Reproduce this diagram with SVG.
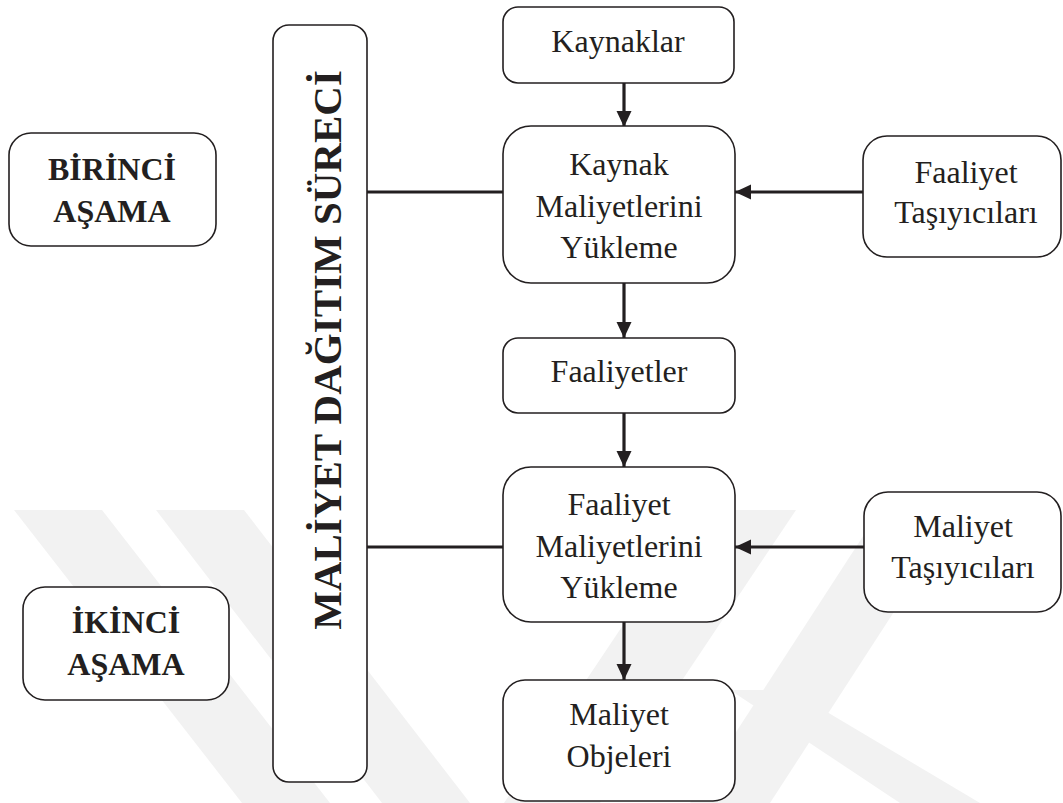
<svg xmlns="http://www.w3.org/2000/svg" width="1063" height="803" viewBox="0 0 1063 803">
  <defs>
    <style>
      .box { fill: #ffffff; stroke: #231f20; stroke-width: 1.6; }
      .txt { font-family: "Liberation Serif", "Times New Roman", serif; font-size: 32px; fill: #231f20; text-anchor: middle; }
      .bold { font-weight: bold; }
      .link { stroke: #231f20; stroke-width: 3.2; fill: none; }
      .wm { fill: #f2f2f2; }
    </style>
    <marker id="arrow" markerUnits="userSpaceOnUse" markerWidth="16" markerHeight="16" refX="16" refY="7.5" orient="auto">
      <path d="M0,0 L16,7.5 L0,15 z" fill="#231f20"/>
    </marker>
  </defs>

  <rect width="1063" height="803" fill="#ffffff"/>

  <!-- faint background watermark bands -->
  <g id="watermark">
    <polygon class="wm" points="14,510 102,510 330,803 242,803"/>
    <polygon class="wm" points="156,510 244,510 470,803 382,803"/>
    <polygon class="wm" points="700,510 796,510 600,803 504,803"/>
    <polygon class="wm" points="880,510 960,510 770,803 690,803"/>
    <polygon class="wm" points="730,690 790,690 980,803 900,803"/>
  </g>

  <!-- connectors -->
  <g id="connectors">
    <line class="link" x1="624" y1="83" x2="624" y2="127" marker-end="url(#arrow)"/>
    <line class="link" x1="624" y1="283" x2="624" y2="338" marker-end="url(#arrow)"/>
    <line class="link" x1="624" y1="413" x2="624" y2="467" marker-end="url(#arrow)"/>
    <line class="link" x1="624" y1="622" x2="624" y2="680" marker-end="url(#arrow)"/>
    <line class="link" x1="863" y1="192" x2="735" y2="192" marker-end="url(#arrow)"/>
    <line class="link" x1="864" y1="547" x2="735" y2="547" marker-end="url(#arrow)"/>
    <line class="link" x1="367" y1="192" x2="503" y2="192"/>
    <line class="link" x1="367" y1="547" x2="503" y2="547"/>
  </g>

  <g id="birinci-asama">
    <rect class="box" x="9" y="133" width="207" height="113" rx="22"/>
    <text class="txt bold" x="112" y="180">BİRİNCİ</text>
    <text class="txt bold" x="112" y="222">AŞAMA</text>
  </g>

  <g id="ikinci-asama">
    <rect class="box" x="23" y="587" width="206" height="113" rx="22"/>
    <text class="txt bold" x="126" y="633">İKİNCİ</text>
    <text class="txt bold" x="126" y="675">AŞAMA</text>
  </g>

  <g id="maliyet-dagitim-sureci">
    <rect class="box" x="273" y="25" width="94" height="757" rx="16"/>
    <text class="txt bold" transform="translate(341,350) rotate(-90)" x="0" y="0" style="font-size:41px">MALİYET DAĞITIM SÜRECİ</text>
  </g>

  <g id="kaynaklar">
    <rect class="box" x="503" y="7" width="231" height="76" rx="15"/>
    <text class="txt" x="618" y="52">Kaynaklar</text>
  </g>

  <g id="kaynak-maliyetlerini-yukleme">
    <rect class="box" x="503" y="126" width="232" height="157" rx="28"/>
    <text class="txt" x="619" y="175">Kaynak</text>
    <text class="txt" x="619" y="217">Maliyetlerini</text>
    <text class="txt" x="619" y="258">Yükleme</text>
  </g>

  <g id="faaliyet-tasiyicilari">
    <rect class="box" x="863" y="136" width="198" height="121" rx="24"/>
    <text class="txt" x="966" y="183">Faaliyet</text>
    <text class="txt" x="966" y="223">Taşıyıcıları</text>
  </g>

  <g id="faaliyetler">
    <rect class="box" x="503" y="338" width="232" height="75" rx="15"/>
    <text class="txt" x="619" y="382">Faaliyetler</text>
  </g>

  <g id="faaliyet-maliyetlerini-yukleme">
    <rect class="box" x="503" y="467" width="232" height="155" rx="28"/>
    <text class="txt" x="619" y="515">Faaliyet</text>
    <text class="txt" x="619" y="557">Maliyetlerini</text>
    <text class="txt" x="619" y="598">Yükleme</text>
  </g>

  <g id="maliyet-tasiyicilari">
    <rect class="box" x="864" y="492" width="197" height="120" rx="24"/>
    <text class="txt" x="963" y="537">Maliyet</text>
    <text class="txt" x="963" y="578">Taşıyıcıları</text>
  </g>

  <g id="maliyet-objeleri">
    <rect class="box" x="503" y="680" width="232" height="121" rx="22"/>
    <text class="txt" x="619" y="725">Maliyet</text>
    <text class="txt" x="619" y="767">Objeleri</text>
  </g>
</svg>
